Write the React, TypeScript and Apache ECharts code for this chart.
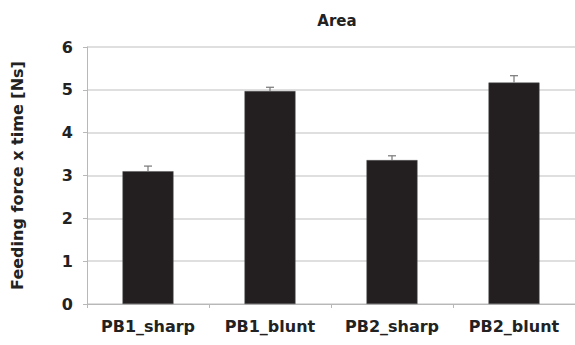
import React, { useEffect, useRef } from "react";
import * as echarts from "echarts";

const categories = ["PB1_sharp", "PB1_blunt", "PB2_sharp", "PB2_blunt"];
const means = [3.1, 4.97, 3.36, 5.17];
const errors = [0.12, 0.09, 0.1, 0.16];
const yTicks = [0, 1, 2, 3, 4, 5, 6];

const FONT = "DejaVu Sans";

export default function App() {
  const ref = useRef<HTMLDivElement>(null);
  useEffect(() => {
    if (!ref.current) return;
    const chart = echarts.init(ref.current, null, { renderer: "svg" });
    chart.setOption({
      animation: false,
      backgroundColor: "#ffffff",
      title: {
        text: "Area",
        left: 332,
        textAlign: "center",
        top: 8,
        textStyle: { fontFamily: FONT, fontWeight: "bold", fontSize: 15, color: "#222" },
      },
      grid: { left: 87, top: 47, bottom: 41, right: -12, containLabel: false },
      xAxis: {
        type: "category",
        data: categories,
        axisLine: { lineStyle: { color: "#b8b8b8", width: 1 } },
        axisTick: { show: true, length: 4, lineStyle: { color: "#b8b8b8" } },
        axisLabel: {
          interval: 0,
          hideOverlap: false,
          margin: 14,
          fontFamily: FONT,
          fontWeight: "bold",
          fontSize: 16,
          color: "#222",
        },
      },
      yAxis: {
        type: "value",
        min: yTicks[0],
        max: yTicks[yTicks.length - 1],
        interval: 1,
        name: "Feeding force x time [Ns]",
        nameLocation: "middle",
        nameGap: 62,
        nameTextStyle: { fontFamily: FONT, fontWeight: "bold", fontSize: 16, color: "#222" },
        axisLine: { show: true, lineStyle: { color: "#b8b8b8", width: 1 } },
        axisTick: { show: true, length: 4, lineStyle: { color: "#b8b8b8" } },
        splitLine: { show: true, lineStyle: { color: "#d4d4d4", width: 1.5 } },
        axisLabel: {
          margin: 14,
          fontFamily: FONT,
          fontWeight: "bold",
          fontSize: 16,
          color: "#222",
        },
      },
      series: [
        {
          type: "bar",
          data: means,
          barWidth: 51,
          itemStyle: { color: "#231f20", borderColor: "#555", borderWidth: 0.5 },
        },
        {
          type: "custom",
          data: means.map((m, i) => [i, m, m + errors[i]]),
          renderItem: (params: any, api: any) => {
            const lo = api.coord([api.value(0), api.value(1)]);
            const hi = api.coord([api.value(0), api.value(2)]);
            const style = { stroke: "#777", lineWidth: 1.2 };
            return {
              type: "group",
              children: [
                { type: "line", shape: { x1: lo[0], y1: lo[1], x2: hi[0], y2: hi[1] }, style },
                { type: "line", shape: { x1: hi[0] - 4, y1: hi[1], x2: hi[0] + 4, y2: hi[1] }, style },
              ],
            };
          },
          z: 10,
        },
      ],
    });
    return () => chart.dispose();
  }, []);
  return (
    <div
      ref={ref}
      style={{ position: "fixed", left: 0, top: 0, width: 575, height: 345 }}
    />
  );
}
